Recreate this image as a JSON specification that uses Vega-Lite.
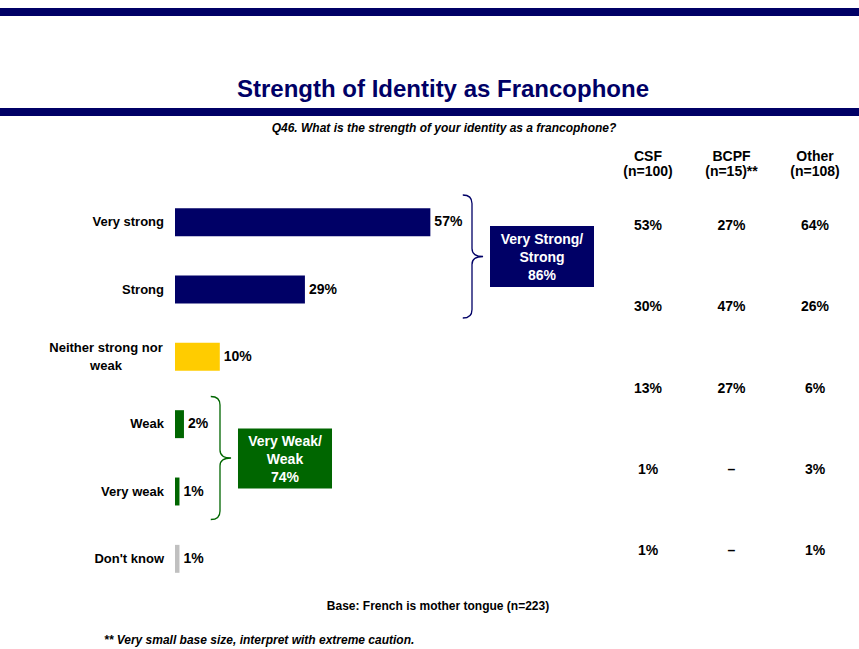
{
  "$schema": "https://vega.github.io/schema/vega-lite/v6.json",
  "width": 859,
  "height": 649,
  "autosize": {"type": "none"},
  "padding": 0,
  "background": "white",
  "config": {"view": {"stroke": null}, "text": {"font": "Liberation Sans"}},
  "datasets": {
    "bars": [
      {"response": "Very strong", "share": 0.57, "tone": "strong"},
      {"response": "Strong", "share": 0.29, "tone": "strong"},
      {"response": "Neither strong nor weak", "share": 0.10, "tone": "neutral"},
      {"response": "Weak", "share": 0.02, "tone": "weak"},
      {"response": "Very weak", "share": 0.01, "tone": "weak"},
      {"response": "Don't know", "share": 0.01, "tone": "unsure"}
    ],
    "table": [
      {"row": "Very strong", "col": "CSF", "pct": 0.53},
      {"row": "Very strong", "col": "BCPF", "pct": 0.27},
      {"row": "Very strong", "col": "Other", "pct": 0.64},
      {"row": "Strong", "col": "CSF", "pct": 0.30},
      {"row": "Strong", "col": "BCPF", "pct": 0.47},
      {"row": "Strong", "col": "Other", "pct": 0.26},
      {"row": "Neither strong nor weak", "col": "CSF", "pct": 0.13},
      {"row": "Neither strong nor weak", "col": "BCPF", "pct": 0.27},
      {"row": "Neither strong nor weak", "col": "Other", "pct": 0.06},
      {"row": "Weak/Very weak", "col": "CSF", "pct": 0.01},
      {"row": "Weak/Very weak", "col": "BCPF", "pct": null},
      {"row": "Weak/Very weak", "col": "Other", "pct": 0.03},
      {"row": "Don't know", "col": "CSF", "pct": 0.01},
      {"row": "Don't know", "col": "BCPF", "pct": null},
      {"row": "Don't know", "col": "Other", "pct": 0.01}
    ],
    "cols": [
      {"col": "CSF", "n": "(n=100)"},
      {"col": "BCPF", "n": "(n=15)**"},
      {"col": "Other", "n": "(n=108)"}
    ],
    "groups": [
      {"group": "Very Strong/Strong", "head": "Very Strong/\nStrong", "share": 0.86},
      {"group": "Very Weak/Weak", "head": "Very Weak/\nWeak", "share": 0.74}
    ],
    "heads": [
      {"line": "title", "text": "Strength of Identity as Francophone"},
      {"line": "question", "text": "Q46. What is the strength of your identity as a francophone?"}
    ],
    "notes": [
      {"note": "base", "text": "Base: French is mother tongue (n=223)"},
      {"note": "caution", "text": "** Very small base size, interpret with extreme caution."}
    ],
    "bands": [
      {"band": "header"},
      {"band": "title"}
    ]
  },
  "resolve": {"scale": {"x": "independent", "y": "independent", "color": "independent", "shape": "independent"}},
  "layer": [
    {
      "data": {"name": "bands"},
      "mark": {"type": "rule", "color": "#000066", "strokeWidth": 8},
      "encoding": {
        "y": {"field": "band", "type": "nominal", "axis": null, "scale": {"type": "point", "domain": ["header", "title"], "range": [12, 112], "padding": 0}}
      }
    },
    {
      "data": {"name": "heads"},
      "transform": [{"filter": {"field": "line", "equal": "title"}}],
      "mark": {"type": "text", "fontSize": 24, "fontWeight": "bold", "color": "#000066", "align": "center", "baseline": "alphabetic"},
      "encoding": {
        "x": {"field": "line", "type": "nominal", "axis": null, "scale": {"type": "point", "domain": ["title", "question"], "range": [443, 444], "padding": 0}},
        "y": {"field": "line", "type": "nominal", "axis": null, "scale": {"type": "point", "domain": ["title", "question"], "range": [97, 132], "padding": 0}},
        "text": {"field": "text"}
      }
    },
    {
      "data": {"name": "heads"},
      "transform": [{"filter": {"field": "line", "equal": "question"}}],
      "mark": {"type": "text", "fontSize": 12, "fontWeight": "bold", "fontStyle": "italic", "color": "#000000", "align": "center", "baseline": "alphabetic"},
      "encoding": {
        "x": {"field": "line", "type": "nominal", "axis": null, "scale": {"type": "point", "domain": ["title", "question"], "range": [443, 444], "padding": 0}},
        "y": {"field": "line", "type": "nominal", "axis": null, "scale": {"type": "point", "domain": ["title", "question"], "range": [97, 132], "padding": 0}},
        "text": {"field": "text"}
      }
    },
    {
      "data": {"name": "bars"},
      "mark": {"type": "bar"},
      "encoding": {
        "x": {"field": "share", "type": "quantitative", "axis": null, "scale": {"domain": [0, 1], "range": [175, 623]}},
        "y": {"field": "response", "type": "nominal", "axis": null, "sort": null, "scale": {"domain": ["Very strong", "Strong", "Neither strong nor weak", "Weak", "Very weak", "Don't know"], "range": [188.5, 592.5], "paddingInner": 0.585, "paddingOuter": 0.2925}},
        "color": {"field": "tone", "type": "nominal", "legend": null, "scale": {"domain": ["strong", "neutral", "weak", "unsure"], "range": ["#000066", "#FFCC00", "#006600", "#C0C0C0"]}}
      }
    },
    {
      "data": {"name": "bars"},
      "mark": {"type": "text", "align": "left", "baseline": "middle", "dx": 4, "fontSize": 14, "fontWeight": "bold", "color": "#000000"},
      "encoding": {
        "x": {"field": "share", "type": "quantitative", "axis": null, "scale": {"domain": [0, 1], "range": [175, 623]}},
        "y": {"field": "response", "type": "nominal", "axis": null, "sort": null, "scale": {"domain": ["Very strong", "Strong", "Neither strong nor weak", "Weak", "Very weak", "Don't know"], "range": [188.5, 592.5], "paddingInner": 0.585, "paddingOuter": 0.2925}},
        "text": {"field": "share", "type": "quantitative", "format": ".0%"}
      }
    },
    {
      "data": {"name": "bars"},
      "transform": [{"filter": {"not": {"field": "response", "equal": "Neither strong nor weak"}}}],
      "mark": {"type": "text", "align": "right", "baseline": "middle", "dx": -11, "fontSize": 13, "fontWeight": "bold", "color": "#000000"},
      "encoding": {
        "x": {"datum": 0, "type": "quantitative", "axis": null, "scale": {"domain": [0, 1], "range": [175, 623]}},
        "y": {"field": "response", "type": "nominal", "axis": null, "sort": null, "scale": {"domain": ["Very strong", "Strong", "Neither strong nor weak", "Weak", "Very weak", "Don't know"], "range": [188.5, 592.5], "paddingInner": 0.585, "paddingOuter": 0.2925}},
        "text": {"field": "response"}
      }
    },
    {
      "data": {"name": "bars"},
      "transform": [{"filter": {"field": "response", "equal": "Neither strong nor weak"}}],
      "mark": {"type": "text", "align": "center", "baseline": "middle", "dx": -69, "dy": -9, "lineHeight": 18, "fontSize": 13, "fontWeight": "bold", "color": "#000000"},
      "encoding": {
        "x": {"datum": 0, "type": "quantitative", "axis": null, "scale": {"domain": [0, 1], "range": [175, 623]}},
        "y": {"field": "response", "type": "nominal", "axis": null, "sort": null, "scale": {"domain": ["Very strong", "Strong", "Neither strong nor weak", "Weak", "Very weak", "Don't know"], "range": [188.5, 592.5], "paddingInner": 0.585, "paddingOuter": 0.2925}},
        "text": {"value": ["Neither strong nor", "weak"]}
      }
    },
    {
      "data": {"name": "table"},
      "transform": [{"filter": {"field": "pct", "valid": true}}],
      "mark": {"type": "text", "align": "center", "baseline": "middle", "fontSize": 14, "fontWeight": "bold", "color": "#000000"},
      "encoding": {
        "x": {"field": "col", "type": "nominal", "axis": null, "scale": {"type": "point", "domain": ["CSF", "BCPF", "Other"], "range": [648, 815], "padding": 0}},
        "y": {"field": "row", "type": "nominal", "axis": null, "scale": {"type": "point", "domain": ["Very strong", "Strong", "Neither strong nor weak", "Weak/Very weak", "Don't know"], "range": [226, 551], "padding": 0}},
        "text": {"field": "pct", "type": "quantitative", "format": ".0%"}
      }
    },
    {
      "data": {"name": "table"},
      "transform": [{"filter": "datum.pct === null"}],
      "mark": {"type": "text", "align": "center", "baseline": "middle", "fontSize": 14, "fontWeight": "bold", "color": "#000000"},
      "encoding": {
        "x": {"field": "col", "type": "nominal", "axis": null, "scale": {"type": "point", "domain": ["CSF", "BCPF", "Other"], "range": [648, 815], "padding": 0}},
        "y": {"field": "row", "type": "nominal", "axis": null, "scale": {"type": "point", "domain": ["Very strong", "Strong", "Neither strong nor weak", "Weak/Very weak", "Don't know"], "range": [226, 551], "padding": 0}},
        "text": {"value": "–"}
      }
    },
    {
      "data": {"name": "cols"},
      "mark": {"type": "text", "align": "center", "baseline": "middle", "dy": -69, "fontSize": 14, "fontWeight": "bold", "color": "#000000"},
      "encoding": {
        "x": {"field": "col", "type": "nominal", "axis": null, "scale": {"type": "point", "domain": ["CSF", "BCPF", "Other"], "range": [648, 815], "padding": 0}},
        "y": {"datum": "Very strong", "type": "nominal", "axis": null, "scale": {"type": "point", "domain": ["Very strong", "Strong", "Neither strong nor weak", "Weak/Very weak", "Don't know"], "range": [226, 551], "padding": 0}},
        "text": {"field": "col"}
      }
    },
    {
      "data": {"name": "cols"},
      "mark": {"type": "text", "align": "center", "baseline": "middle", "dy": -54, "fontSize": 14, "fontWeight": "bold", "color": "#000000"},
      "encoding": {
        "x": {"field": "col", "type": "nominal", "axis": null, "scale": {"type": "point", "domain": ["CSF", "BCPF", "Other"], "range": [648, 815], "padding": 0}},
        "y": {"datum": "Very strong", "type": "nominal", "axis": null, "scale": {"type": "point", "domain": ["Very strong", "Strong", "Neither strong nor weak", "Weak/Very weak", "Don't know"], "range": [226, 551], "padding": 0}},
        "text": {"field": "n"}
      }
    },
    {
      "data": {"name": "groups"},
      "mark": {"type": "point", "filled": false, "opacity": 1, "strokeWidth": 1.3, "size": 15129, "shape": "M-0.15,-1 Q0,-1 0,-0.86 L0,-0.13 Q0,0 0.18,0 Q0,0 0,0.13 L0,0.86 Q0,1 -0.15,1"},
      "encoding": {
        "x": {"field": "group", "type": "nominal", "axis": null, "scale": {"type": "point", "domain": ["Very Strong/Strong", "Very Weak/Weak"], "range": [472, 220], "padding": 0}},
        "y": {"field": "group", "type": "nominal", "axis": null, "scale": {"type": "point", "domain": ["Very Strong/Strong", "Very Weak/Weak"], "range": [256.5, 458], "padding": 0}},
        "color": {"field": "group", "type": "nominal", "legend": null, "scale": {"domain": ["Very Strong/Strong", "Very Weak/Weak"], "range": ["#000066", "#006600"]}}
      }
    },
    {
      "data": {"name": "groups"},
      "mark": {"type": "point", "filled": true, "opacity": 1, "size": 10816},
      "encoding": {
        "x": {"field": "group", "type": "nominal", "axis": null, "scale": {"type": "point", "domain": ["Very Strong/Strong", "Very Weak/Weak"], "range": [542, 285], "padding": 0}},
        "y": {"field": "group", "type": "nominal", "axis": null, "scale": {"type": "point", "domain": ["Very Strong/Strong", "Very Weak/Weak"], "range": [256.5, 458.5], "padding": 0}},
        "shape": {"field": "group", "type": "nominal", "legend": null, "scale": {"domain": ["Very Strong/Strong", "Very Weak/Weak"], "range": ["M-1,-0.5865 L1,-0.5865 L1,0.5865 L-1,0.5865 Z", "M-0.904,-0.577 L0.904,-0.577 L0.904,0.577 L-0.904,0.577 Z"]}},
        "color": {"field": "group", "type": "nominal", "legend": null, "scale": {"domain": ["Very Strong/Strong", "Very Weak/Weak"], "range": ["#000066", "#006600"]}}
      }
    },
    {
      "data": {"name": "groups"},
      "mark": {"type": "text", "align": "center", "baseline": "middle", "dy": -16.5, "lineBreak": "\n", "lineHeight": 18, "fontSize": 14, "fontWeight": "bold", "color": "#FFFFFF"},
      "encoding": {
        "x": {"field": "group", "type": "nominal", "axis": null, "scale": {"type": "point", "domain": ["Very Strong/Strong", "Very Weak/Weak"], "range": [542, 285], "padding": 0}},
        "y": {"field": "group", "type": "nominal", "axis": null, "scale": {"type": "point", "domain": ["Very Strong/Strong", "Very Weak/Weak"], "range": [256.5, 458.5], "padding": 0}},
        "text": {"field": "head"}
      }
    },
    {
      "data": {"name": "groups"},
      "mark": {"type": "text", "align": "center", "baseline": "middle", "dy": 19, "fontSize": 14, "fontWeight": "bold", "color": "#FFFFFF"},
      "encoding": {
        "x": {"field": "group", "type": "nominal", "axis": null, "scale": {"type": "point", "domain": ["Very Strong/Strong", "Very Weak/Weak"], "range": [542, 285], "padding": 0}},
        "y": {"field": "group", "type": "nominal", "axis": null, "scale": {"type": "point", "domain": ["Very Strong/Strong", "Very Weak/Weak"], "range": [256.5, 458.5], "padding": 0}},
        "text": {"field": "share", "type": "quantitative", "format": ".0%"}
      }
    },
    {
      "data": {"name": "notes"},
      "transform": [{"filter": {"field": "note", "equal": "base"}}],
      "mark": {"type": "text", "align": "center", "baseline": "middle", "fontSize": 12, "fontWeight": "bold", "color": "#000000"},
      "encoding": {
        "x": {"field": "note", "type": "nominal", "axis": null, "scale": {"type": "point", "domain": ["base", "caution"], "range": [438, 104], "padding": 0}},
        "y": {"field": "note", "type": "nominal", "axis": null, "scale": {"type": "point", "domain": ["base", "caution"], "range": [606, 640], "padding": 0}},
        "text": {"field": "text"}
      }
    },
    {
      "data": {"name": "notes"},
      "transform": [{"filter": {"field": "note", "equal": "caution"}}],
      "mark": {"type": "text", "align": "left", "baseline": "middle", "fontSize": 12, "fontWeight": "bold", "fontStyle": "italic", "color": "#000000"},
      "encoding": {
        "x": {"field": "note", "type": "nominal", "axis": null, "scale": {"type": "point", "domain": ["base", "caution"], "range": [438, 104], "padding": 0}},
        "y": {"field": "note", "type": "nominal", "axis": null, "scale": {"type": "point", "domain": ["base", "caution"], "range": [606, 640], "padding": 0}},
        "text": {"field": "text"}
      }
    }
  ]
}
